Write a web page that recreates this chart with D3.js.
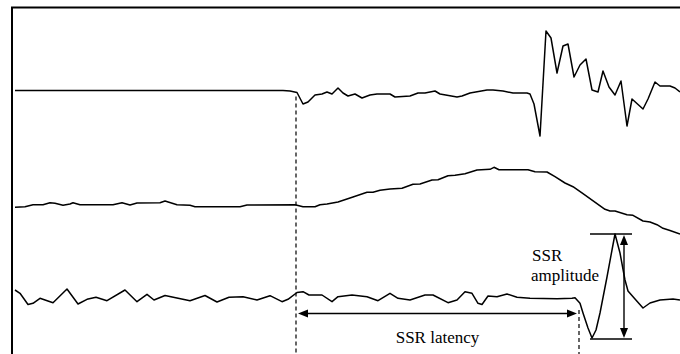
<!DOCTYPE html>
<html>
<head>
<meta charset="utf-8">
<script src="https://cdn.jsdelivr.net/npm/d3@7/dist/d3.min.js"></script>
<style>
  html, body { margin: 0; padding: 0; background: #fff; }
  svg { display: block; }
</style>
</head>
<body>
<svg id="chart" width="680" height="354"></svg>
<script>
// ---------------- DATA ----------------
// time (arbitrary units), amplitude relative to each trace's baseline (positive = up)
const trace1 = [[3,0],[271,0],[278,-0.5],[285,-2],[291,-13.5],[296,-11.5],[303,-4.5],[310,-3.5],[315,-1.5],[320,-3.5],[326,2.5],[331,-2.5],[336,-5.5],[343,-3.5],[350,-7.5],[358,-4.5],[365,-3.5],[378,-3.5],[383,-6.5],[398,-5.5],[406,-2.5],[413,-2.5],[423,-0.5],[428,-3.5],[445,-6.5],[450,-5.5],[458,-2.5],[475,0.5],[481,0.5],[491,-0.5],[501,-2.5],[515,-2.5],[518,-3.5],[522,-13.5],[528,-45.5],[534,59.5],[539,52.5],[545,17.5],[551,44.5],[556,46.5],[562,13.5],[568,25.5],[574,31.5],[580,0.5],[586,-1.5],[591,19.5],[597,3.5],[603,-4.5],[609,9.5],[615,-35.5],[620,-8.5],[631,-18.5],[636,-8.5],[643,8.5],[648,4.5],[658,4.5],[663,2.5],[668,-1.5]];

const trace2 = [[3,-2.3],[13,-1.7],[21,0.3],[31,0.3],[38,2.3],[43,1.7],[51,-0.3],[58,1],[61,2.3],[68,0.3],[101,0.3],[110,2.3],[118,0],[125,2],[148,2.3],[153,4],[165,0.3],[178,-0.3],[183,-1.7],[228,-1.7],[235,0],[283,0.3],[291,-1.7],[303,-1.7],[308,0.3],[315,1],[326,3],[341,8],[355,12.7],[361,12.7],[368,14.7],[378,16],[390,16.7],[401,20.7],[408,21],[420,25],[426,25.3],[436,29.3],[443,29.7],[453,31.3],[465,35],[478,35.7],[482,37.7],[487,35.3],[516,35.3],[523,33.3],[535,33],[543,28.3],[553,22],[561,18.3],[571,11.3],[593,-4.3],[598,-6],[603,-6],[615,-9.7],[621,-10.3],[631,-16],[638,-17],[645,-19.7],[651,-23.3],[658,-25.5],[668,-29]];

const trace3 = [[3,7],[8,3.7],[16,-7.5],[21,-6.3],[28,-1.3],[41,-5.7],[55,8],[66,-7],[75,-2.3],[84,-0.3],[95,-3.7],[113,7],[125,-4.7],[135,2.7],[142,-3],[153,1.5],[178,-3.7],[193,1.5],[205,-5],[217,-0.3],[231,0.3],[245,-3],[258,1.3],[270,-4.7],[276,-2.3],[285,4.5],[291,5.3],[297,2],[310,2],[320,-4.7],[326,0.3],[340,2],[355,0.3],[366,-3.7],[378,3.7],[386,-1.3],[398,-3],[413,2],[421,2],[436,-5.7],[445,-3],[453,5.3],[460,3.7],[466,-6.3],[470,-7.5],[476,1],[485,0.3],[495,3],[505,-0.3],[518,-1.3],[545,-1.7],[560,-1.3],[563,-0.7],[568,-6.3],[571,-16],[576,-31],[580,-41],[584,-33],[588,-16],[595,20],[600,47],[603,63],[608,44],[613,17],[616,6],[623,-2],[631,-11],[638,-6],[648,-3],[661,-2],[668,-3]];

const stimulusTime = 284;     // onset (dashed line 1)
const responseTime = 567;     // SSR onset (dashed line 2)
const ssrPeak = 63;           // trace3 peak value
const ssrTrough = -42;        // trace3 trough value
const ampMarkerTime = 612;    // vertical amplitude arrow
const ampLineStart = 578, ampLineEnd = 620;
const labels = { latency: "SSR latency", amp1: "SSR", amp2: "amplitude" };

// ---------------- LAYOUT ----------------
const W = 680, H = 354;
const svg = d3.select("#chart");
const x = d3.scaleLinear().domain([0, 668]).range([12, 680]);
const baselines = [90.5, 205, 297];
const yScales = baselines.map(b => d3.scaleLinear().domain([0, 100]).range([b, b - 100]));
const [y1, y2, y3] = yScales;

// frame (top and left edges)
svg.append("path")
  .attr("d", `M${x(0)},${H} V7.5 H${W + 2}`)
  .attr("fill", "none").attr("stroke", "#000").attr("stroke-width", 2);

// traces
const traces = [trace1, trace2, trace3];
traces.forEach((tr, i) => {
  const line = d3.line().x(d => x(d[0])).y(d => yScales[i](d[1])).curve(d3.curveLinear);
  svg.append("path").datum(tr)
    .attr("d", line)
    .attr("fill", "none").attr("stroke", "#000")
    .attr("stroke-width", 1.5).attr("stroke-linejoin", "round");
});

// dashed vertical lines
svg.append("line")
  .attr("x1", x(stimulusTime)).attr("x2", x(stimulusTime))
  .attr("y1", y1(-6)).attr("y2", H)
  .attr("stroke", "#000").attr("stroke-width", 1.2).attr("stroke-dasharray", "4,3");
svg.append("line")
  .attr("x1", x(responseTime)).attr("x2", x(responseTime))
  .attr("y1", y3(-13)).attr("y2", H)
  .attr("stroke", "#000").attr("stroke-width", 1.2).attr("stroke-dasharray", "4,3");

// arrowhead helper
function arrowHead(tipX, tipY, dir) { // dir: 'left','right','up','down'
  const L = 10, hw = 4;
  let pts;
  if (dir === "left") pts = [[tipX, tipY], [tipX + L, tipY - hw], [tipX + L, tipY + hw]];
  if (dir === "right") pts = [[tipX, tipY], [tipX - L, tipY - hw], [tipX - L, tipY + hw]];
  if (dir === "up") pts = [[tipX, tipY], [tipX - hw, tipY + L], [tipX + hw, tipY + L]];
  if (dir === "down") pts = [[tipX, tipY], [tipX - hw, tipY - L], [tipX + hw, tipY - L]];
  svg.append("path").attr("d", "M" + pts.join("L") + "Z").attr("fill", "#000");
}

// latency arrow
const latY = y3(-16.5);
const latL = x(stimulusTime) + 2, latR = x(responseTime) - 2;
svg.append("line").attr("x1", latL + 4).attr("x2", latR - 4).attr("y1", latY).attr("y2", latY)
  .attr("stroke", "#000").attr("stroke-width", 1.4);
arrowHead(latL, latY, "left");
arrowHead(latR, latY, "right");
svg.append("text")
  .attr("x", (latL + latR) / 2).attr("y", 343)
  .attr("text-anchor", "middle")
  .attr("font-family", "'Liberation Serif', 'Times New Roman', serif")
  .attr("font-size", 17).text(labels.latency);

// amplitude marker
[ssrPeak, ssrTrough].forEach(v => {
  svg.append("line").attr("x1", x(ampLineStart)).attr("x2", x(ampLineEnd))
    .attr("y1", y3(v)).attr("y2", y3(v))
    .attr("stroke", "#000").attr("stroke-width", 1.4);
});
const ax = x(ampMarkerTime);
svg.append("line").attr("x1", ax).attr("x2", ax)
  .attr("y1", y3(ssrPeak) + 4).attr("y2", y3(ssrTrough) - 4)
  .attr("stroke", "#000").attr("stroke-width", 1.4);
arrowHead(ax, y3(ssrPeak) + 1, "up");
arrowHead(ax, y3(ssrTrough) - 1, "down");

svg.append("text").attr("x", 532).attr("y", 261)
  .attr("font-family", "'Liberation Serif', 'Times New Roman', serif")
  .attr("font-size", 17).text(labels.amp1);
svg.append("text").attr("x", 531).attr("y", 281)
  .attr("font-family", "'Liberation Serif', 'Times New Roman', serif")
  .attr("font-size", 17).text(labels.amp2);
</script>
</body>
</html>
